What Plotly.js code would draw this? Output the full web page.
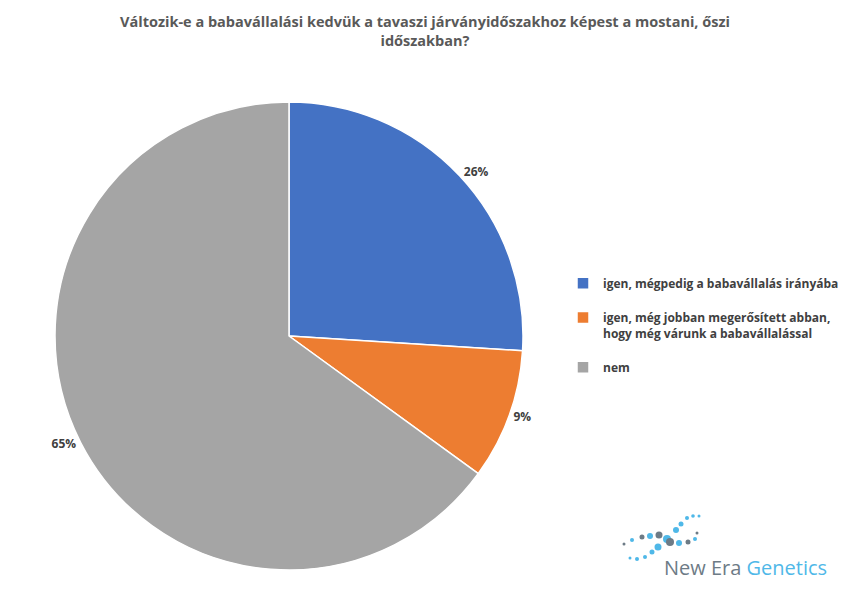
<!DOCTYPE html>
<html>
<head>
<meta charset="utf-8">
<script src="https://cdn.plot.ly/plotly-3.0.1.min.js"></script>
<style>html,body{margin:0;padding:0;background:#fff;}#chart{width:850px;height:600px;}</style>
</head>
<body>
<div id="chart"></div>
<script>
const categories = [
  "igen, mégpedig a babavállalás irányába",
  "igen, még jobban megerősített abban,<br>hogy még várunk a babavállalással",
  "nem"
];
const values = [26, 9, 65];
const colors = ["#4472C4", "#ED7D31", "#A5A5A5"];
const titleText = "Változik-e a babavállalási kedvük a tavaszi járványidőszakhoz képest a mostani, őszi<br>időszakban?";

const W = 850, H = 600;
const cx = 289, cy = 336, r = 234;

// legend entries get a trailing blank line so the items are spaced like the reference
const legendLabels = categories.map((c, i) => i < categories.length - 1 ? c + "<br> " : c);

const trace = {
  type: "pie",
  labels: legendLabels,
  values: values,
  sort: false,
  direction: "clockwise",
  rotation: 0,
  marker: {colors: colors, line: {color: "#ffffff", width: 1.5}},
  textinfo: "percent",
  texttemplate: "%{percent:.0%}",
  textposition: "outside",
  outsidetextfont: {family: "Open Sans, Liberation Sans, sans-serif", size: 12, color: "#404040", weight: "bold"},
  hoverinfo: "percent",
  domain: {x: [(cx - r) / W, (cx + r) / W], y: [(H - cy - r) / H, (H - cy + r) / H]}
};

const shapes = [];
// decorative logo dots
const dots = [
  [624,544,1.5,"#6d7b86"],[632,540,2,"#4fb8e8"],[642,537,2.5,"#6d7b86"],[650,536,3,"#4fb8e8"],
  [659,535,3.5,"#6d7b86"],[667,539,4,"#4fb8e8"],[670,542,4,"#6d7b86"],[679,543,3,"#4fb8e8"],[688,542,2.5,"#6d7b86"],[695,539,2,"#4fb8e8"],
  [676,530,3,"#4fb8e8"],[681,524,2.5,"#4fb8e8"],[687,518,2,"#4fb8e8"],[693,516,1.8,"#4fb8e8"],[699,516,1.5,"#4fb8e8"],
  [630,558,1.5,"#4fb8e8"],[637,559,2,"#4fb8e8"],[645,557,2,"#4fb8e8"],[652,552,2.5,"#4fb8e8"],[658,547,3.5,"#4fb8e8"],[697,533,1.5,"#6d7b86"]
];
dots.forEach(d => {
  shapes.push({type: "circle", xref: "paper", yref: "paper",
    x0: (d[0] - d[2]) / W, x1: (d[0] + d[2]) / W, y0: 1 - (d[1] + d[2]) / H, y1: 1 - (d[1] - d[2]) / H,
    fillcolor: d[3], line: {width: 0}});
});

const layout = {
  width: W, height: H,
  margin: {l: 0, r: 0, t: 0, b: 0},
  paper_bgcolor: "#ffffff",
  title: {
    text: titleText,
    font: {family: "Open Sans, Liberation Sans, sans-serif", size: 14.5, color: "#595959", weight: "bold"},
    x: 0.5, xanchor: "center", y: 1 - 27 / H, yanchor: "top"
  },
  showlegend: true,
  legend: {
    x: 563 / W, xanchor: "left", y: 1 - 269 / H, yanchor: "top",
    valign: "top",
    font: {family: "Open Sans, Liberation Sans, sans-serif", size: 12, color: "#404040", weight: "bold"},
    itemwidth: 30
  },
  shapes: shapes,
  annotations: [
    {xref: "paper", yref: "paper", x: 662 / W, y: 1 - 567 / H, xanchor: "left", yanchor: "middle", showarrow: false,
     text: "<span style='color:#6d7b86'>New Era </span><span style='color:#4fb8e8'>Genetics</span>",
     font: {family: "Open Sans, Liberation Sans, sans-serif", size: 20}}
  ]
};

Plotly.newPlot("chart", [trace], layout, {displayModeBar: false, staticPlot: true});
</script>
</body>
</html>
